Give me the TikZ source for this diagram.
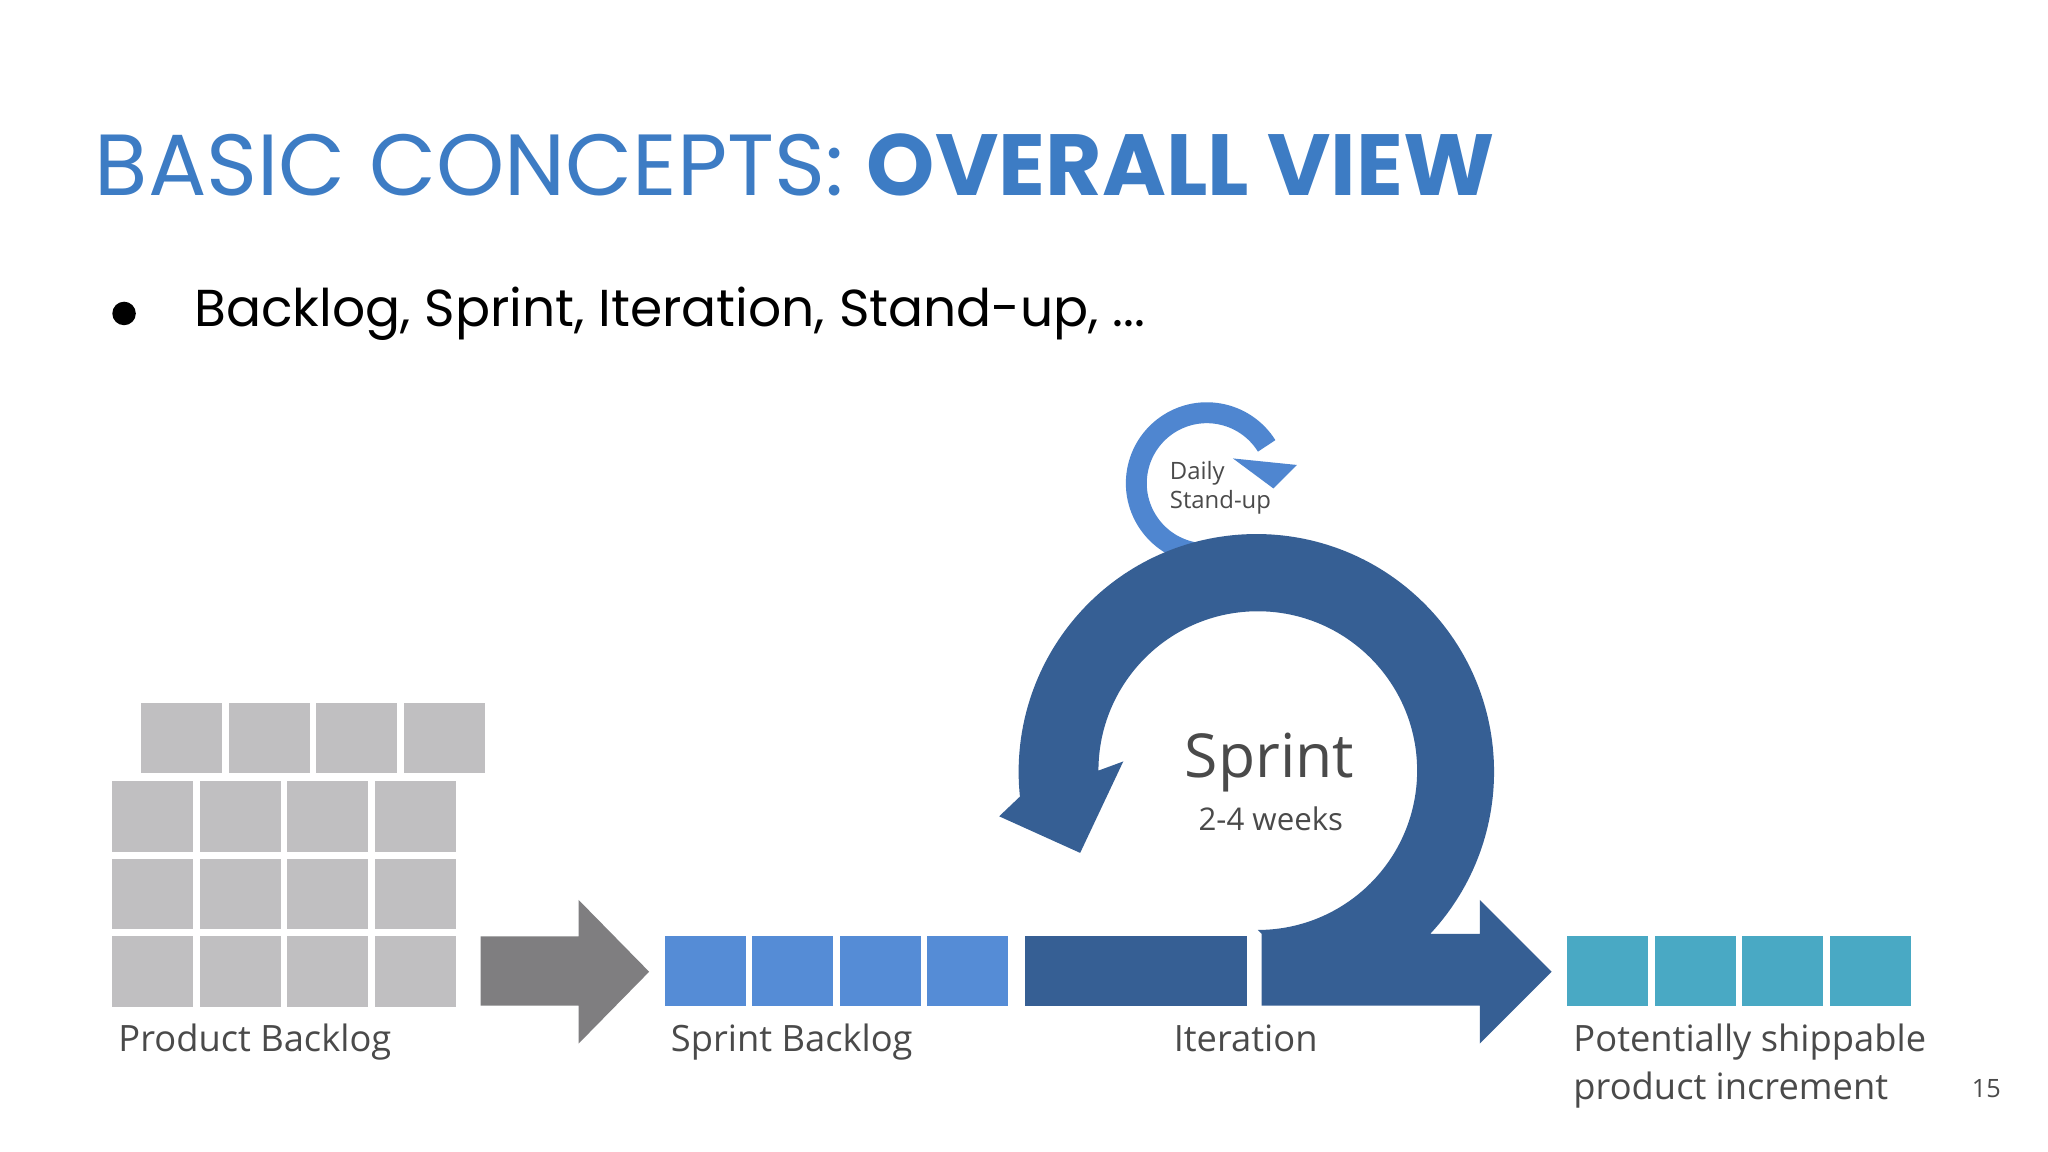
\documentclass[tikz,border=0pt]{standalone}
\usepackage{fontspec}
\setmainfont{Open Sans}
\newfontfamily\ttl{Poppins}
\definecolor{tblue}{HTML}{3D7CC4}
\definecolor{pbg}{HTML}{C0BFC1}
\definecolor{garrow}{HTML}{7F7E80}
\definecolor{sblue}{HTML}{558CD6}
\definecolor{dblue}{HTML}{365F94}
\definecolor{lblue}{HTML}{4F86D0}
\definecolor{teal}{HTML}{49A9C4}
\definecolor{lbl}{HTML}{4A4A4A}
\begin{document}
\begin{tikzpicture}[x=0.01cm,y=-0.01cm,
  box/.style={minimum width=62*0.01cm,minimum height=54*0.01cm,inner sep=0,draw=none},
  lab/.style={anchor=base west,text=lbl,font=\fontsize{7.9}{10}\selectfont,inner sep=0}]
\useasboundingbox (0,0) rectangle (1568,882);
\fill[white] (0,0) rectangle (1568,882);
\node[anchor=base west,inner sep=0,text=tblue] (title) at (72,150)
  {\ttl\fontsize{18.9}{22}\selectfont BASIC CONCEPTS: \textbf{OVERALL VIEW}};
\fill (95,240) circle (9) node[inner sep=0] (bul) {};
\node[anchor=base west,inner sep=0] (btxt) at (148,250) {\ttl\fontsize{11.3}{14}\selectfont Backlog, Sprint, Iteration, Stand-up, ...};
% product backlog
\foreach \i in {0,...,3}{
  \node[box,fill=pbg] (t\i) at (139+67*\i,565) {};
  \foreach \j in {0,1,2}{
    \node[box,fill=pbg] (p\i\j) at (117+67*\i,625+59.5*\j) {};}
}
\fill[garrow] (368,717) -- (443,717) -- (443,689) -- (497,744) -- (443,799) -- (443,770) -- (368,770) -- cycle;
\foreach \i in {0,...,3}{
  \node[box,fill=sblue] (s\i) at (540+67*\i,743.5) {};
  \node[box,fill=teal] (q\i) at (1231+67*\i,743.5) {};
}
\node[minimum width=170*0.01cm,minimum height=54*0.01cm,inner sep=0,fill=dblue] (iter) at (870,743.5) {};
% daily standup
\draw[lblue,line width=0.16cm] (924,370) ++(100:54) arc[start angle=100,end angle=328,radius=54];
\fill[lblue] (944,351) -- (993,356) -- (975,374) -- cycle;
% sprint ring
\fill[dblue] (966,770) -- (1133,770) -- (1133,799) -- (1188,744) -- (1133,689) -- (1133,715) -- (1095,715)
  arc[start angle=43,end angle=-186,radius=182] -- (765,625) -- (827,653) -- (860,583) -- (841,590)
  arc[start angle=-180,end angle=90,radius=122] -- (966,715) -- cycle;
\node[anchor=base west,inner sep=0,text=lbl,font=\fontsize{5.2}{6}\selectfont] (daily) at (895,367) {Daily};
\node[anchor=base west,inner sep=0,text=lbl,font=\fontsize{5.2}{6}\selectfont] (stand) at (895,389) {Stand-up};
\node[anchor=base,inner sep=0,text=lbl,font=\fontsize{13.2}{16}\selectfont] (spr) at (972,595) {Sprint};
\node[anchor=base,inner sep=0,text=lbl,font=\fontsize{6.8}{8}\selectfont] (wk) at (973,636) {2-4 weeks};
\node[lab] (l1) at (90,805) {Product Backlog};
\node[lab] (l2) at (513,805) {Sprint Backlog};
\node[lab] (l3) at (898,805) {Iteration};
\node[lab] (l4) at (1204,805) {Potentially shippable};
\node[lab] (l5) at (1204,842) {product increment};
\node[anchor=base west,inner sep=0,text=lbl,font=\fontsize{5.5}{6}\selectfont] (pg) at (1509,840) {15};
\end{tikzpicture}
\end{document}
